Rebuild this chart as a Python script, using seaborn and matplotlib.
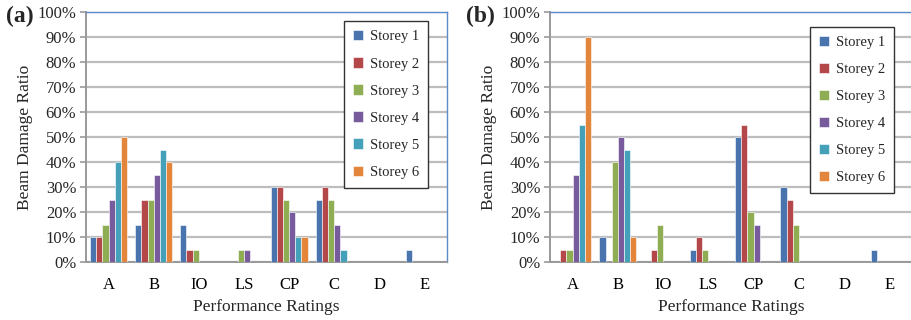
import matplotlib
matplotlib.use("Agg")
import matplotlib.pyplot as plt
import seaborn as sns
import pandas as pd
from matplotlib.ticker import FuncFormatter, FixedLocator

ratings = ["A", "B", "IO", "LS", "CP", "C", "D", "E"]
storeys = ["Storey 1", "Storey 2", "Storey 3", "Storey 4", "Storey 5", "Storey 6"]

# Beam damage ratio (%) per storey, one list per rating
case_a = {
    "A":  [10, 10, 15, 25, 40, 50],
    "B":  [15, 25, 25, 35, 45, 40],
    "IO": [15, 5, 5, 0, 0, 0],
    "LS": [0, 0, 5, 5, 0, 0],
    "CP": [30, 30, 25, 20, 10, 10],
    "C":  [25, 30, 25, 15, 5, 0],
    "D":  [0, 0, 0, 0, 0, 0],
    "E":  [5, 0, 0, 0, 0, 0],
}
case_b = {
    "A":  [0, 5, 5, 35, 55, 90],
    "B":  [10, 0, 40, 50, 45, 10],
    "IO": [0, 5, 15, 0, 0, 0],
    "LS": [5, 10, 5, 0, 0, 0],
    "CP": [50, 55, 20, 15, 0, 0],
    "C":  [30, 25, 15, 0, 0, 0],
    "D":  [0, 0, 0, 0, 0, 0],
    "E":  [5, 0, 0, 0, 0, 0],
}

palette = ["#4a74ad", "#b4474a", "#8fad52", "#775b9c", "#45a1ba", "#e3853b"]


def to_long(case):
    rows = []
    for r in ratings:
        for s, v in zip(storeys, case[r]):
            rows.append({"rating": r, "storey": s, "ratio": v})
    return pd.DataFrame(rows)


sns.set_theme(style="white")
plt.rcParams["font.family"] = ["Liberation Serif", "DejaVu Serif"]

fig = plt.figure(figsize=(9.11, 3.2), dpi=100)
ax_a = fig.add_axes([86 / 911, 58 / 320, 361 / 911, 250 / 320])
ax_b = fig.add_axes([550 / 911, 58 / 320, 362 / 911, 250 / 320])

grid_c = "#bdbdbd"
axis_c = "#999999"
border_c = "#5b8bc9"

for ax, case, tag, tag_x, leg_pos in [
    (ax_a, case_a, "(a)", 6, (342 / 911, 1 - 187 / 320, 88 / 911, 165 / 320)),
    (ax_b, case_b, "(b)", 466, (807 / 911, 1 - 193 / 320, 90 / 911, 166 / 320)),
]:
    df = to_long(case)
    sns.barplot(data=df, x="rating", y="ratio", hue="storey", order=ratings,
                hue_order=storeys, palette=palette, width=0.82, gap=0,
                edgecolor="white", linewidth=0.4, saturation=1, ax=ax,
                legend=True, zorder=3)
    ax.set_xlim(-0.5, len(ratings) - 0.5)
    ax.set_ylim(0, 100)
    ax.yaxis.set_major_locator(FixedLocator(range(0, 101, 10)))
    ax.yaxis.set_major_formatter(FuncFormatter(lambda v, p: f"{int(v)}%"))
    ax.grid(axis="y", color=grid_c, linewidth=1.6, zorder=0)
    ax.set_axisbelow(True)

    ax.set_xticks(range(len(ratings)))
    ax.set_xticklabels(ratings)
    ax.set_xticks([i + 0.5 for i in range(-1, len(ratings))], minor=True)
    ax.tick_params(axis="x", which="major", length=0, pad=11, labelsize=12, colors="black")
    ax.tick_params(axis="x", which="minor", length=4, width=1.2, color=axis_c)
    ax.tick_params(axis="y", which="major", length=4, width=1.2, color=axis_c,
                   left=True, labelsize=12, pad=3)

    for side in ["left", "bottom"]:
        ax.spines[side].set_color(axis_c)
        ax.spines[side].set_linewidth(1.4)
    for side in ["top", "right"]:
        ax.spines[side].set_color(border_c)
        ax.spines[side].set_linewidth(1.0)
        ax.spines[side].set_visible(True)

    ax.set_xlabel("Performance Ratings", fontsize=12.5, labelpad=4)
    ax.set_ylabel("Beam Damage Ratio", fontsize=12.5, labelpad=3)

    handles, labels = ax.get_legend_handles_labels()
    ax.legend(handles, labels, loc="center", bbox_to_anchor=leg_pos,
              bbox_transform=fig.transFigure, frameon=True, fancybox=False,
              edgecolor="#333333", framealpha=1, fontsize=10.5,
              handlelength=0.7, handleheight=0.7, handletextpad=0.5,
              labelspacing=0.95, borderpad=0.6)
    ax.get_legend().get_frame().set_linewidth(1.0)

    fig.text(tag_x / 911, 1 - 16 / 320, tag, fontsize=17,
             fontweight="bold", ha="left", va="center")

fig.savefig("out.png", dpi=100)
